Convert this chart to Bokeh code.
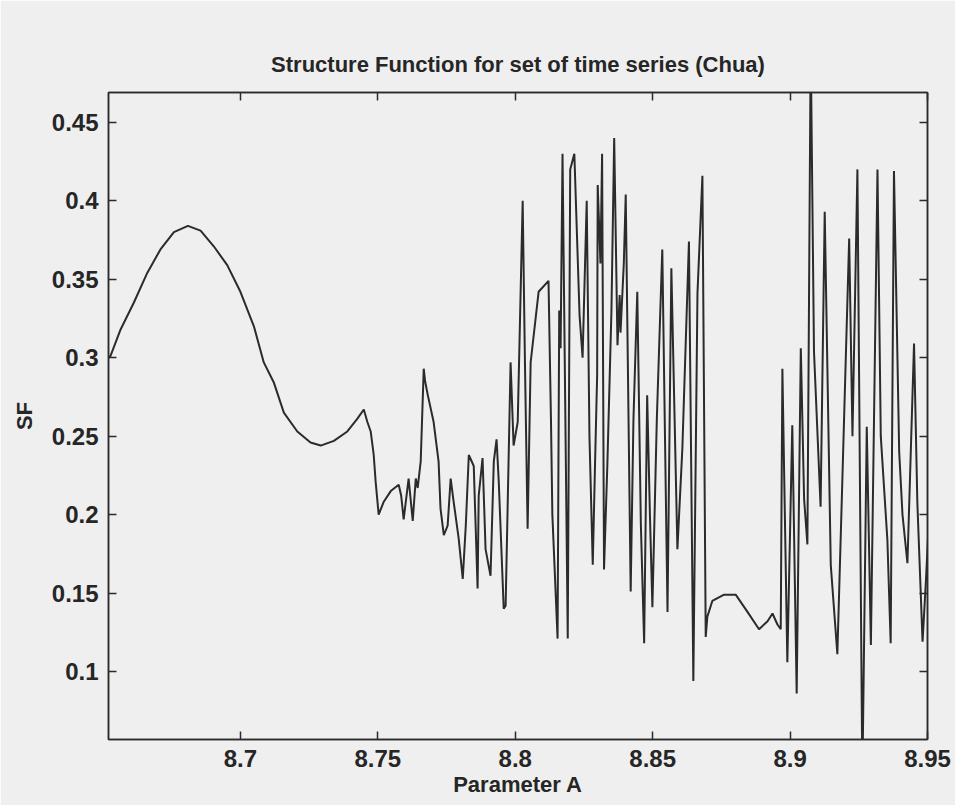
from bokeh.plotting import figure
from bokeh.models import Range1d, FixedTicker, LinearAxis
from bokeh.embed import file_html
from bokeh.resources import INLINE

# ---- data ----
param_a = [
    8.6520, 8.6527, 8.6564, 8.6612, 8.6661, 8.6709, 8.6758, 8.6809, 8.6855, 8.6903,
    8.6952, 8.7000, 8.7049, 8.7085, 8.7122, 8.7158, 8.7207, 8.7255, 8.7292, 8.7340,
    8.7389, 8.7425, 8.7449, 8.7462, 8.7474, 8.7485, 8.7492, 8.7503, 8.7521, 8.7547,
    8.7576, 8.7585, 8.7594, 8.7612, 8.7627, 8.7638, 8.7645, 8.7656, 8.7667, 8.7672,
    8.7682, 8.7703, 8.7721, 8.7728, 8.7740, 8.7754, 8.7765, 8.7776, 8.7794, 8.7809,
    8.7820, 8.7831, 8.7849, 8.7863, 8.7867, 8.7881, 8.7892, 8.7910, 8.7922, 8.7932,
    8.7940, 8.7958, 8.7965, 8.7983, 8.7994, 8.8009, 8.8027, 8.8035, 8.8045, 8.8056,
    8.8085, 8.8121, 8.8130, 8.8135, 8.8154, 8.8160, 8.8165, 8.8172, 8.8180, 8.8191,
    8.8200, 8.8215, 8.8234, 8.8245, 8.8260, 8.8270, 8.8282, 8.8290, 8.8298, 8.8300,
    8.8310, 8.8316, 8.8323, 8.8335, 8.8350, 8.8360, 8.8372, 8.8380, 8.8383, 8.8395,
    8.8402, 8.8420, 8.8430, 8.8444, 8.8457, 8.8469, 8.8480, 8.8490, 8.8499, 8.8515,
    8.8535, 8.8554, 8.8568, 8.8590, 8.8608, 8.8632, 8.8648, 8.8663, 8.8681, 8.8693,
    8.8699, 8.8717, 8.8760, 8.8802, 8.8845, 8.8887, 8.8918, 8.8936, 8.8954, 8.8966,
    8.8972, 8.8990, 8.9008, 8.9024, 8.9039, 8.9051, 8.9063, 8.9075, 8.9087, 8.9111,
    8.9126, 8.9148, 8.9172, 8.9190, 8.9215, 8.9227, 8.9245, 8.9263, 8.9279, 8.9294,
    8.9318, 8.9330, 8.9354, 8.9366, 8.9378, 8.9397, 8.9409, 8.9427, 8.9451, 8.9463,
    8.9482, 8.9494, 8.9506,
]
sf_values = [
    0.300, 0.301, 0.318, 0.335, 0.354, 0.369, 0.380, 0.384, 0.381, 0.371,
    0.359, 0.342, 0.320, 0.297, 0.284, 0.265, 0.253, 0.246, 0.244, 0.247,
    0.253, 0.261, 0.267, 0.259, 0.253, 0.238, 0.221, 0.200, 0.208, 0.215,
    0.219, 0.212, 0.197, 0.223, 0.196, 0.223, 0.217, 0.234, 0.293, 0.285,
    0.276, 0.259, 0.234, 0.204, 0.187, 0.193, 0.223, 0.208, 0.185, 0.159,
    0.193, 0.238, 0.231, 0.153, 0.212, 0.236, 0.178, 0.161, 0.234, 0.248,
    0.221, 0.140, 0.142, 0.297, 0.244, 0.259, 0.400, 0.300, 0.191, 0.297,
    0.342, 0.349, 0.260, 0.200, 0.121, 0.330, 0.306, 0.430, 0.300, 0.121,
    0.420, 0.430, 0.327, 0.300, 0.400, 0.250, 0.168, 0.230, 0.289, 0.410,
    0.360, 0.430, 0.165, 0.231, 0.330, 0.440, 0.308, 0.340, 0.316, 0.360,
    0.404, 0.151, 0.260, 0.342, 0.194, 0.118, 0.276, 0.200, 0.141, 0.260,
    0.369, 0.138, 0.357, 0.178, 0.242, 0.374, 0.094, 0.341, 0.416, 0.122,
    0.135, 0.145, 0.149, 0.149, 0.138, 0.127, 0.132, 0.137, 0.130, 0.127,
    0.293, 0.106, 0.257, 0.086, 0.306, 0.210, 0.181, 0.500, 0.304, 0.205,
    0.393, 0.168, 0.111, 0.221, 0.376, 0.250, 0.420, 0.030, 0.256, 0.117,
    0.420, 0.250, 0.184, 0.118, 0.419, 0.240, 0.200, 0.169, 0.309, 0.208,
    0.119, 0.157, 0.200,
]
x_ticks = [8.7, 8.75, 8.8, 8.85, 8.9, 8.95]
x_tick_labels = ["8.7", "8.75", "8.8", "8.85", "8.9", "8.95"]
y_ticks = [0.1, 0.15, 0.2, 0.25, 0.3, 0.35, 0.4, 0.45]
y_tick_labels = ["0.1", "0.15", "0.2", "0.25", "0.3", "0.35", "0.4", "0.45"]

FONT = "Liberation Sans"
BG = "#efefef"
INK = "#2b2b2b"
TXT = "#262626"

p = figure(width=955, height=805, output_backend="svg", toolbar_location=None,
           x_range=Range1d(8.652, 8.95), y_range=Range1d(0.0567, 0.469),
           title="Structure Function for set of time series (Chua)",
           min_border_left=108, min_border_right=28, min_border_top=92,
           min_border_bottom=66)
p.background_fill_color = BG
p.border_fill_color = BG
p.outline_line_color = INK
p.outline_line_width = 1.5
p.grid.visible = False

p.title.align = "center"
p.title.text_font = FONT
p.title.text_font_size = "22px"
p.title.text_font_style = "bold"
p.title.text_color = TXT
p.title.standoff = 32

p.line(param_a, sf_values, line_color=INK, line_width=2.0)

x_over = {t: s for t, s in zip(x_ticks, x_tick_labels)}
y_over = {t: s for t, s in zip(y_ticks, y_tick_labels)}

def style(ax, ticks, over, show):
    ax.ticker = FixedTicker(ticks=ticks)
    ax.minor_tick_line_color = None
    ax.major_tick_in = 8
    ax.major_tick_out = 0
    ax.major_tick_line_color = INK
    ax.major_tick_line_width = 1.5
    ax.axis_line_color = INK
    ax.axis_line_width = 1.5
    if show:
        ax.major_label_overrides = over
        ax.major_label_text_font = FONT
        ax.major_label_text_font_style = "bold"
        ax.major_label_text_font_size = "24px"
        ax.major_label_text_color = TXT
        ax.axis_label_text_font = FONT
        ax.axis_label_text_font_style = "bold"
        ax.axis_label_text_font_size = "22px"
        ax.axis_label_text_color = TXT
    else:
        ax.major_label_text_font_size = "0px"
        ax.major_label_text_color = None
        ax.major_label_text_alpha = 0

style(p.xaxis[0], x_ticks, x_over, True)
style(p.yaxis[0], y_ticks, y_over, True)
p.xaxis[0].axis_label = "Parameter A"
p.yaxis[0].axis_label = "SF"
p.xaxis[0].major_label_standoff = 10
p.yaxis[0].major_label_standoff = 10
p.xaxis[0].axis_label_standoff = 2
p.yaxis[0].axis_label_standoff = 12

top_ax = LinearAxis()
right_ax = LinearAxis()
style(top_ax, x_ticks, x_over, False)
style(right_ax, y_ticks, y_over, False)
p.add_layout(top_ax, "above")
p.add_layout(right_ax, "right")

open("out.html", "w").write(file_html(p, INLINE))
